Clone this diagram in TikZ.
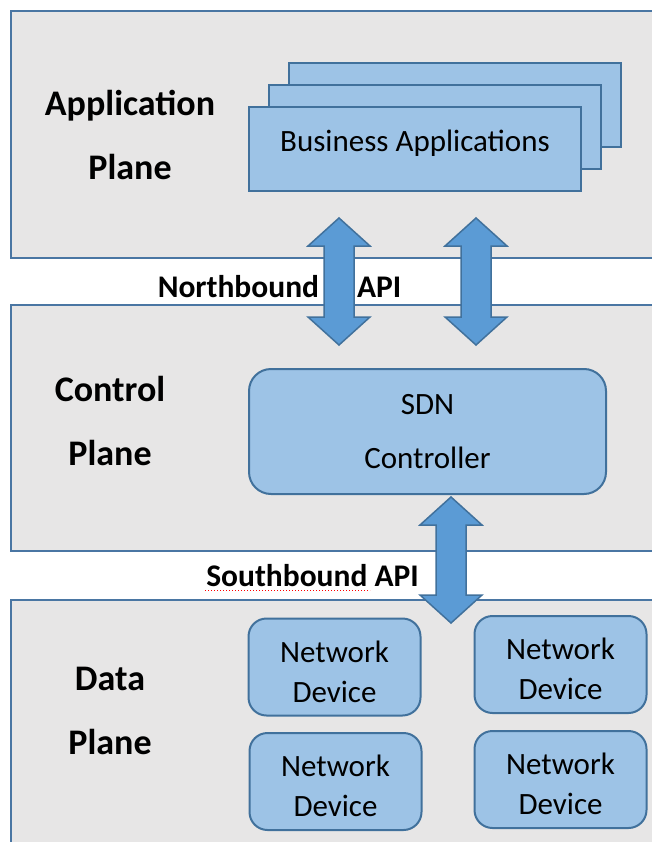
\documentclass[tikz,border=0pt]{standalone}
\usepackage{fontspec}
\setmainfont{Carlito}
\usetikzlibrary{calc, positioning}

\definecolor{panelfill}{HTML}{E7E6E6}
\definecolor{paneledge}{HTML}{4A76A3}
\definecolor{boxfill}{HTML}{9DC3E6}
\definecolor{boxedge}{HTML}{41719C}
\definecolor{arrfill}{HTML}{5B9BD5}

\tikzset{
  panel/.style={draw=paneledge, fill=panelfill, line width=2.5pt},
  planelabel/.style={align=center, font=\fontsize{36}{64}\selectfont\bfseries},
  apilabel/.style={anchor=base, font=\fontsize{31.5}{38}\selectfont\bfseries},
  appbox/.style={draw=boxedge, fill=boxfill, line width=2pt, minimum width=332pt,
    minimum height=84pt, font=\fontsize{31}{38}\selectfont},
  devbox/.style={draw=boxedge, fill=boxfill, line width=2pt, rounded corners=18pt,
    minimum width=172pt, minimum height=97pt, align=center,
    font=\fontsize{31}{40}\selectfont},
  barrow/.style={draw=boxedge, fill=arrfill, line width=1.5pt, line join=miter}
}

% double block arrow between two points
\newcommand{\blockarrow}[2]{%
  \draw[barrow] (#1) -- ($(#1)+(31,28)$) -- ($(#1)+(15,28)$) -- ($(#2)+(15,-28)$)
    -- ($(#2)+(31,-28)$) -- (#2) -- ($(#2)+(-31,-28)$) -- ($(#2)+(-15,-28)$)
    -- ($(#1)+(-15,28)$) -- ($(#1)+(-31,28)$) -- cycle;}

\begin{document}
\begin{tikzpicture}[x=1pt, y=-1pt]
    \clip (0,0) rectangle (652,842);
    \fill[white] (0,0) rectangle (652,842);

    % the three planes
    \draw[panel] (11,11) rectangle (680,258);
    \draw[panel] (11,305) rectangle (680,551);
    \draw[panel] (11,600) rectangle (680,870);

    \node[planelabel] (appplane) at (130,135) {Application\\Plane};
    \node[planelabel] (ctrlplane) at (110,421) {Control\\Plane};
    \node[planelabel] (dataplane) at (110,711) {Data\\Plane};

    % application layer
    \node[appbox] (app3) at (455,105) {};
    \node[appbox] (app2) at (435,127) {};
    \node[appbox, text depth=16pt] (apps) at (415,149) {Business Applications};

    % controller
    \node[devbox, minimum width=357pt, minimum height=125pt, rounded corners=22pt,
      font=\fontsize{31}{54}\selectfont] (sdn) at (427.5,431.5) {SDN\\Controller};

    % data layer
    \node[devbox, text height=71pt] (dev1) at (334.5,667) {Network\\Device};
    \node[devbox, text height=71pt] (dev2) at (560.5,664.5) {Network\\Device};
    \node[devbox, text height=71pt] (dev3) at (335.5,781.5) {Network\\Device};
    \node[devbox, text height=71pt] (dev4) at (560.5,779.5) {Network\\Device};

    % interfaces
    \node[apilabel] (nbapi) at (279.5,297) {Northbound\hspace{38pt}API};
    \node[apilabel] (sbapi) at (312.5,586.5) {Southbound API};
    \draw[red, dotted, line width=1pt] (205,590) -- (370,590);

    \coordinate (nb1top) at (339,218);
    \coordinate (nb1bot) at (339,345);
    \coordinate (nb2top) at (476,218);
    \coordinate (nb2bot) at (476,345);
    \coordinate (sbtop) at (451,497);
    \coordinate (sbbot) at (451,623);

    \blockarrow{nb1top}{nb1bot}
    \blockarrow{nb2top}{nb2bot}
    \blockarrow{sbtop}{sbbot}
\end{tikzpicture}
\end{document}
